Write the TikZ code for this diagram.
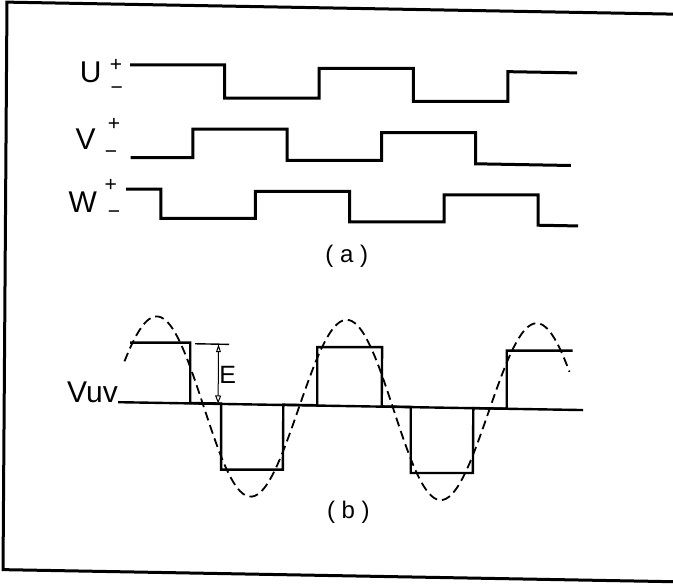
\documentclass[tikz,border=0pt]{standalone}
\usepackage{fontspec}
\setmainfont{Liberation Sans}
\usetikzlibrary{arrows.meta}

\begin{document}
\begin{tikzpicture}[
    wave/.style={line width=1.5pt, line join=miter},
    vout/.style={line width=1.2pt, line join=miter},
    fund/.style={line width=0.9pt, dash pattern=on 4.5pt off 2.5pt},
    phase/.style={inner sep=0pt, font=\fontsize{15}{17}\selectfont},
    sign/.style={inner sep=0pt, font=\fontsize{10.5}{12}\selectfont},
    caption/.style={inner sep=0pt, font=\fontsize{12}{14}\selectfont},
]
    \useasboundingbox (0pt,-292pt) rectangle (336.5pt,0pt);

    \begin{scope}[x={(0.5pt,-0.009pt)}, y={(-0.0035pt,-0.5pt)}]%the scan is a bit skewed
    \draw[line width=1.5pt] (690,2) -- (7,2) -- (7,569.5) -- (690,569.5);%frame

    % (a) phase voltages
    \node[phase] (u) at (91.2,70.7) {U};
    \node[sign] (up) at (116.5,62.9) {+};
    \node[sign] (um) at (117.3,88.6) {−};
    \node[phase] (v) at (86.7,137.5) {V};
    \node[sign] (vp) at (114.9,122) {+};
    \node[sign] (vm) at (112.1,153) {−};
    \node[phase] (w) at (84.1,200.2) {W};
    \node[sign] (wp) at (112,183) {+};
    \node[sign] (wm) at (115.5,213) {−};

    \draw[wave] (130.5,62.5) -| (225.3,94) -| (319.6,62.5) -| (413.9,94) -| (508.3,62.5) -- (577.5,62.5);
    \draw[wave] (131.7,155.2) -| (193.8,125.7) -| (288.2,155.2) -| (382.5,125.7) -| (476.8,155.2) -- (572,155.2);
    \draw[wave] (127.4,186.8) -| (162.4,215.5) -| (256.7,186.8) -| (351,215.5) -| (445.4,186.8) -| (539.7,215.5) -- (579.7,215.5);

    \node[caption] (capa) at (348.5,249.8) {(\;a\;)};

    % (b) line voltage
    \node[phase, anchor=base east] (vuv) at (121,400) {Vuv};
    \coordinate (axisend) at (586,399.5);
    \draw[vout] (vuv.base east) -- (axisend);

    \draw[vout] (132.4,340.2) -| (193,399.5) -- (223.9,399.5) |- (286.1,464.4) -- (286.1,399.5)
        -- (320,399.5) |- (384.5,340.2) -- (384.5,399.5)
        -- (413.5,399.5) |- (476.1,464.4) -- (476.1,399.5)
        -- (509.5,399.5) |- (575,340.2);

    \draw[fund, domain=127:572, samples=150, smooth] plot (\x, {402.8-89.3*cos(1.894737*(\x-159))});

    \draw[line width=0.7pt] (197.4,340.2) -- (231.4,340.2);
    \coordinate (etop) at (220.9,340.2);
    \coordinate (ebot) at (220.9,399.5);
    \draw[{Triangle[open,length=4pt,width=2.4pt]}-{Triangle[open,length=4pt,width=3pt]}, line width=0.5pt] (etop) -- (ebot);
    \node[inner sep=0pt, font=\fontsize{12.5}{14}\selectfont] (e) at (230.3,370.9) {E};

    \node[caption] (capb) at (351.9,506) {(\;b\;)};
    \end{scope}
\end{tikzpicture}
\end{document}
